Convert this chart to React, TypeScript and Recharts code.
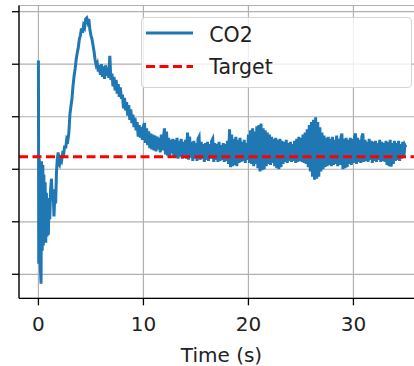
import React from 'react';
import { LineChart, Line, XAxis, YAxis, CartesianGrid, Legend } from 'recharts';

// first two seconds: the sensor swings hard, sampled irregularly
const EARLY_TIME = [0, 0.03, 0.08, 0.14, 0.2, 0.25, 0.3, 0.36, 0.42, 0.47, 0.52, 0.58, 0.64, 0.7, 0.76, 0.82, 0.88, 0.94, 1.0, 1.08, 1.16, 1.24, 1.32, 1.4, 1.48, 1.56, 1.64, 1.72, 1.8, 1.88, 1.94];
const EARLY_CO2 = [4.07, 0.2, 2.2, 0.4, 0.05, -0.18, 2.15, 0.45, 2.08, 0.55, 1.9, 0.8, 1.75, 0.6, 1.55, 0.72, 1.45, 0.75, 1.2, 1.05, 1.62, 1.82, 1.4, 1.62, 1.1, 1.5, 1.35, 1.95, 2.2, 2.32, 2.1];

// from 2.0 s onward, one reading every 0.1 s (one row = one second)
const SAMPLE_START = 2.0;
const SAMPLE_STEP = 0.1;
const CO2 = [
  2.08, 2.20, 2.16, 2.30, 2.28, 2.45, 2.40, 2.58, 2.55, 2.70,
  3.05, 3.20, 3.36, 3.60, 3.78, 3.92, 4.10, 4.22, 4.32, 4.48,
  4.55, 4.68, 4.60, 4.74, 4.70, 4.86, 4.88, 4.80, 4.86, 4.66,
  4.55, 4.48, 4.36, 4.24, 4.08, 3.98, 4.02, 3.86, 3.98, 3.80,
  4.00, 3.76, 3.96, 3.72, 3.98, 3.78, 3.94, 3.74, 4.16, 3.70,
  3.82, 3.58, 3.76, 3.50, 3.70, 3.44, 3.62, 3.38, 3.56, 3.34,
  3.42, 3.16, 3.36, 3.12, 3.28, 3.02, 3.22, 2.94, 3.14, 2.88,
  3.04, 2.80, 2.98, 2.74, 2.90, 2.62, 2.84, 2.60, 2.80, 2.56,
  2.82, 2.88, 2.50, 2.78, 2.46, 2.72, 2.40, 2.68, 2.38, 2.66,
  2.36, 2.64, 2.34, 2.62, 2.38, 2.60, 2.32, 2.66, 2.36, 2.58,
  2.78, 2.28, 2.72, 2.26, 2.60, 2.24, 2.56, 2.30, 2.58, 2.22,
  2.56, 2.22, 2.60, 2.20, 2.54, 2.24, 2.58, 2.20, 2.52, 2.26,
  2.56, 2.20, 2.70, 2.18, 2.62, 2.22, 2.52, 2.16, 2.54, 2.20,
  2.50, 2.16, 2.58, 2.62, 2.18, 2.52, 2.20, 2.48, 2.14, 2.50,
  2.18, 2.52, 2.16, 2.48, 2.20, 2.54, 2.58, 2.14, 2.50, 2.18,
  2.48, 2.14, 2.52, 2.16, 2.46, 2.18, 2.50, 2.14, 2.48, 2.16,
  2.54, 2.10, 2.76, 2.04, 2.66, 2.06, 2.58, 2.08, 2.62, 2.06,
  2.56, 2.12, 2.60, 2.14, 2.52, 2.16, 2.56, 2.12, 2.50, 2.18,
  2.66, 2.12, 2.74, 2.10, 2.78, 2.06, 2.72, 2.10, 2.82, 2.02,
  2.84, 1.96, 2.87, 1.98, 2.78, 2.00, 2.74, 2.06, 2.70, 2.10,
  2.66, 2.08, 2.62, 2.12, 2.58, 2.06, 2.60, 2.02, 2.56, 2.00,
  2.58, 2.04, 2.54, 2.10, 2.52, 2.14, 2.56, 2.12, 2.50, 2.16,
  2.52, 2.14, 2.48, 2.16, 2.54, 2.12, 2.58, 2.14, 2.62, 2.16,
  2.60, 2.14, 2.66, 2.12, 2.70, 2.10, 2.76, 2.04, 2.84, 1.96,
  2.90, 1.86, 2.94, 1.80, 2.99, 1.82, 2.90, 1.86, 2.80, 1.96,
  2.70, 2.00, 2.64, 2.04, 2.60, 2.06, 2.62, 2.08, 2.58, 2.06,
  2.62, 2.08, 2.56, 2.10, 2.64, 2.06, 2.58, 2.08, 2.60, 2.68,
  2.00, 2.58, 2.02, 2.60, 2.04, 2.56, 2.10, 2.60, 2.08, 2.58,
  2.12, 2.62, 2.68, 2.10, 2.60, 2.14, 2.56, 2.12, 2.62, 2.68,
  2.14, 2.56, 2.16, 2.52, 2.14, 2.58, 2.18, 2.54, 2.12, 2.52,
  2.16, 2.54, 2.14, 2.50, 2.18, 2.56, 2.14, 2.52, 2.16, 2.50,
  2.14, 2.54, 2.08, 2.52, 2.06, 2.56, 2.05, 2.50, 2.10, 2.54,
  2.16, 2.50, 2.18, 2.54, 2.16, 2.48, 2.20, 2.52, 2.22, 2.46,
  2.42,
];

const TARGET = 2.24;
const X_DOMAIN: [number, number] = [-1.85, 36.72];
const Y_DOMAIN: [number, number] = [-0.457, 5.118];
const X_TICKS = [0, 10, 20, 30];
const Y_TICKS = [0, 1, 2, 3, 4, 5];

const FONT = '"DejaVu Sans", sans-serif';
const BLUE = '#1f77b4';

// target is an axhline in the original, so it runs edge to edge
const data = [
  { t: X_DOMAIN[0], target: TARGET },
  ...EARLY_TIME.map((t, i) => ({ t, co2: EARLY_CO2[i], target: TARGET })),
  ...CO2.map((v, i) => ({ t: +(SAMPLE_START + i * SAMPLE_STEP).toFixed(2), co2: v, target: TARGET })),
  { t: X_DOMAIN[1], target: TARGET },
];

const XTick = ({ x, y, payload }: any) => (
  <text x={x} y={y} dy={23.4} textAnchor="middle" fontFamily={FONT} fontSize={20} fill="#222">
    {payload.value}
  </text>
);

// y labels fall outside the crop in the original, only the tick marks show
const NoLabel = () => <g />;

const TimeLabel = ({ viewBox }: any) => (
  <text x={viewBox.x + viewBox.width / 2} y={361.5} textAnchor="middle" fontFamily={FONT} fontSize={20} fill="#222">
    Time (s)
  </text>
);

const LegendBox = () => (
  <div style={{
    width: 270.7, height: 71, boxSizing: 'border-box',
    border: '1px solid #d4d4d4', borderRadius: 4, background: 'rgba(255,255,255,0.8)',
  }}>
    <svg width={269} height={69} style={{ display: 'block' }}>
      <line x1={4} x2={51} y1={15} y2={15} stroke={BLUE} strokeWidth={3} />
      <text x={67.3} y={24} fontFamily={FONT} fontSize={20.5} fill="#222">CO2</text>
      <line x1={4} x2={51} y1={48.4} y2={48.4} stroke="#ff0000" strokeWidth={3} strokeDasharray="9 4.5" />
      <text x={67.3} y={56} fontFamily={FONT} fontSize={20.5} fill="#222">Target</text>
    </svg>
  </div>
);

export default function App() {
  return (
    <div style={{ position: 'absolute', left: 0, top: 0, width: 414, height: 366, overflow: 'hidden', background: '#fff' }}>
      <LineChart width={426} height={366} data={data} margin={{ top: 5.5, right: 2, left: 0, bottom: 0 }}>
        <CartesianGrid stroke="#b0b0b0" strokeWidth={1.2} fill="none" />
        <XAxis
          dataKey="t" type="number" domain={X_DOMAIN} ticks={X_TICKS} allowDataOverflow
          height={67.7} tickSize={7} tick={<XTick />}
          axisLine={{ stroke: '#000', strokeWidth: 1.3 }} tickLine={{ stroke: '#000', strokeWidth: 1.3 }}
          label={<TimeLabel />}
        />
        <XAxis
          xAxisId="top" orientation="top" dataKey="t" type="number" domain={X_DOMAIN} allowDataOverflow
          height={0} tick={false} tickLine={false} axisLine={{ stroke: '#000', strokeWidth: 1.3 }}
        />
        <YAxis
          type="number" domain={Y_DOMAIN} ticks={Y_TICKS} allowDataOverflow
          width={19} tickSize={7} tick={<NoLabel />}
          axisLine={{ stroke: '#000', strokeWidth: 1.3 }} tickLine={{ stroke: '#000', strokeWidth: 1.3 }}
        />
        <Line dataKey="co2" name="CO2" type="linear" stroke={BLUE} strokeWidth={3} dot={false} isAnimationActive={false} />
        <Line dataKey="target" name="Target" type="linear" stroke="#ff0000" strokeWidth={3} strokeDasharray="9 4.5" dot={false} isAnimationActive={false} />
        <Legend
          layout="vertical" align="center" verticalAlign="middle"
          wrapperStyle={{ top: 17.3, left: 141, width: 270.7 }}
          content={<LegendBox />}
        />
      </LineChart>
    </div>
  );
}
